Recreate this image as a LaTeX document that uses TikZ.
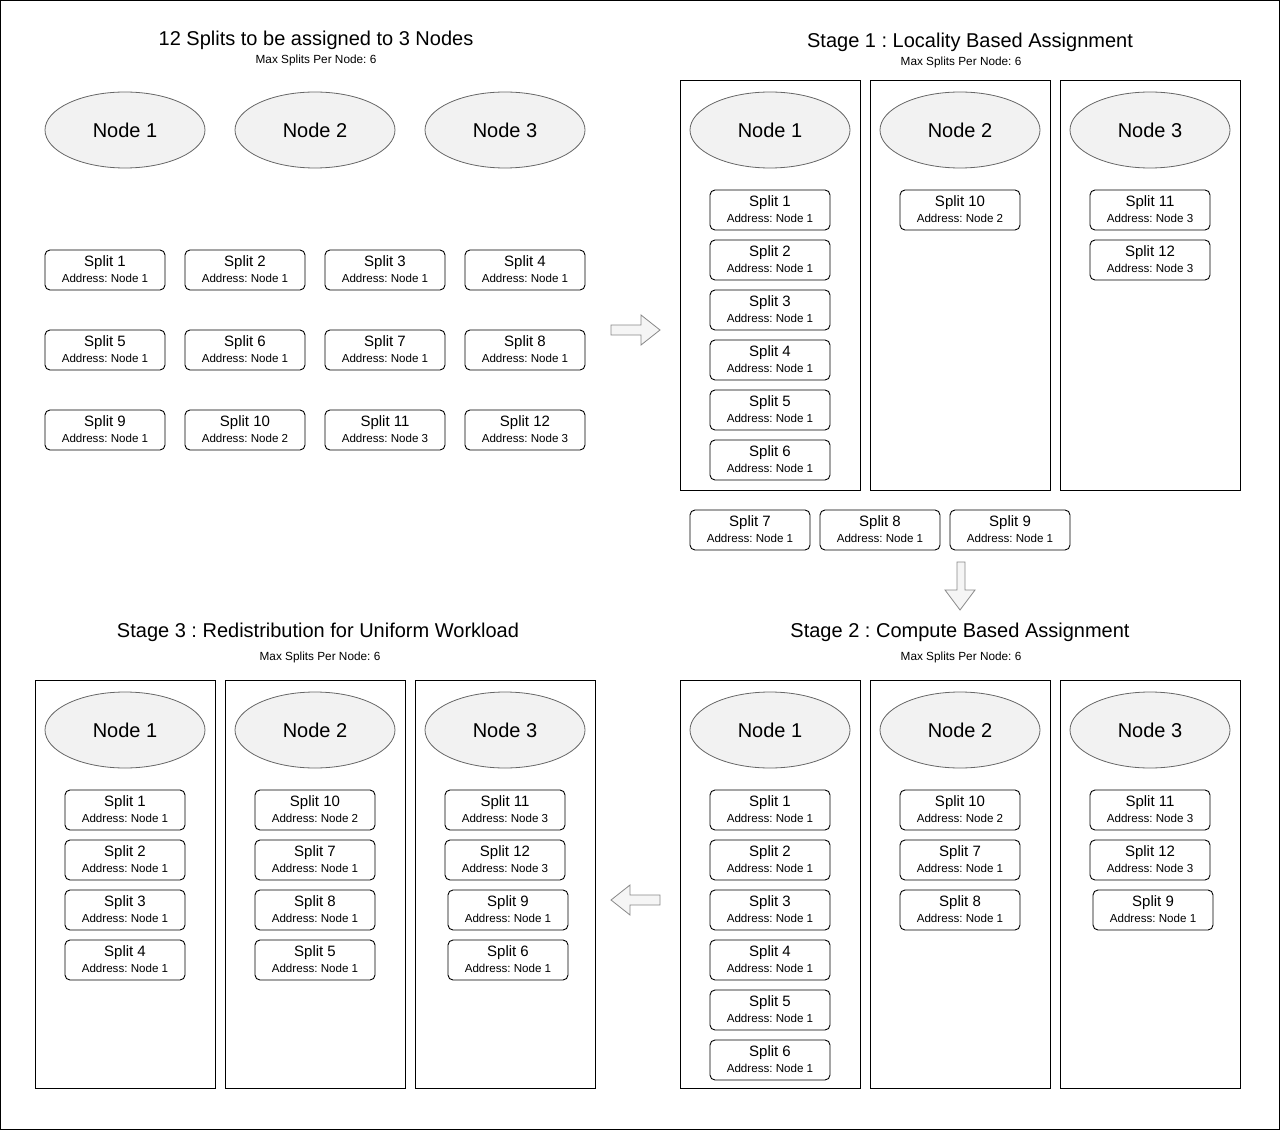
\documentclass[tikz,border=0pt]{standalone}
\usepackage{fontspec}
\setmainfont{Liberation Sans}
\frenchspacing
\usetikzlibrary{calc}
\definecolor{ellfill}{HTML}{F2F2F2}
\definecolor{ellline}{HTML}{666666}
\definecolor{arrfill}{HTML}{F5F5F5}
\definecolor{arrline}{HTML}{888888}
\tikzset{
  sbox/.style={draw=black, line width=0.9pt, rounded corners=5pt, minimum width=120pt, minimum height=40pt, inner sep=0pt},
  stext/.style={inner sep=0pt, font=\fontsize{15}{17}\selectfont},
  atext/.style={inner sep=0pt, font=\fontsize{11.6}{13}\selectfont},
  ell/.style={draw=ellline, fill=ellfill, line width=0.8pt, ellipse, minimum width=160pt, minimum height=76pt, inner sep=0pt, font=\fontsize{20}{24}\selectfont},
  cont/.style={draw=black, line width=1pt, minimum width=180pt, inner sep=0pt, anchor=north west},
  ttl/.style={inner sep=0pt, font=\fontsize{20}{24}\selectfont},
  sub/.style={inner sep=0pt, font=\fontsize{11.8}{13}\selectfont},
  blk/.style={draw=arrline, fill=arrfill, line width=0.8pt, line join=miter},
}
\usetikzlibrary{shapes.geometric}
% name, x, y (centre), split number, address node
\newcommand\splt[5]{%
  \node[sbox] (#1) at (#2,#3) {};
  \node[stext] (#1s) at ([yshift=7.5pt]#1.center) {Split #4};
  \node[atext] (#1a) at ([yshift=-8.5pt]#1.center) {Address: Node #5};
}
\begin{document}
\begin{tikzpicture}[x=1pt,y=-1pt]
\useasboundingbox (0,0) rectangle (1281,1131);
\draw[line width=1pt] (0.5,0.5) rectangle (1279.5,1129.5);

% ---------- Initial ----------
\node[ttl] (t0) at (316,40.5) {12 Splits to be assigned to 3 Nodes};
\node[sub] (m0) at (316,60) {Max Splits Per Node: 6};
\node[ell] (a1) at (125,130) {Node 1};
\node[ell] (a2) at (315,130) {Node 2};
\node[ell] (a3) at (505,130) {Node 3};
\splt{i1}{105}{270}{1}{1}
\splt{i2}{245}{270}{2}{1}
\splt{i3}{385}{270}{3}{1}
\splt{i4}{525}{270}{4}{1}
\splt{i5}{105}{350}{5}{1}
\splt{i6}{245}{350}{6}{1}
\splt{i7}{385}{350}{7}{1}
\splt{i8}{525}{350}{8}{1}
\splt{i9}{105}{430}{9}{1}
\splt{i10}{245}{430}{10}{2}
\splt{i11}{385}{430}{11}{3}
\splt{i12}{525}{430}{12}{3}

% ---------- Stage 1 ----------
\node[ttl] (t1) at (970,42.5) {Stage 1 : Locality Based Assignment};
\node[sub] (m1) at (961,62) {Max Splits Per Node: 6};
\node[cont, minimum height=410pt] (c11) at (680,80) {};
\node[cont, minimum height=410pt] (c12) at (870,80) {};
\node[cont, minimum height=410pt] (c13) at (1060,80) {};
\node[ell] (b1) at (770,130) {Node 1};
\node[ell] (b2) at (960,130) {Node 2};
\node[ell] (b3) at (1150,130) {Node 3};
\splt{p1}{770}{210}{1}{1}
\splt{p2}{770}{260}{2}{1}
\splt{p3}{770}{310}{3}{1}
\splt{p4}{770}{360}{4}{1}
\splt{p5}{770}{410}{5}{1}
\splt{p6}{770}{460}{6}{1}
\splt{p10}{960}{210}{10}{2}
\splt{p11}{1150}{210}{11}{3}
\splt{p12}{1150}{260}{12}{3}
\splt{r7}{750}{530}{7}{1}
\splt{r8}{880}{530}{8}{1}
\splt{r9}{1010}{530}{9}{1}

% ---------- Stage 2 ----------
\node[ttl] (t2) at (960,632.5) {Stage 2 : Compute Based Assignment};
\node[sub] (m2) at (961,657) {Max Splits Per Node: 6};
\node[cont, minimum height=408pt] (c21) at (680,680) {};
\node[cont, minimum height=408pt] (c22) at (870,680) {};
\node[cont, minimum height=408pt] (c23) at (1060,680) {};
\node[ell] (d1) at (770,730) {Node 1};
\node[ell] (d2) at (960,730) {Node 2};
\node[ell] (d3) at (1150,730) {Node 3};
\splt{q1}{770}{810}{1}{1}
\splt{q2}{770}{860}{2}{1}
\splt{q3}{770}{910}{3}{1}
\splt{q4}{770}{960}{4}{1}
\splt{q5}{770}{1010}{5}{1}
\splt{q6}{770}{1060}{6}{1}
\splt{q10}{960}{810}{10}{2}
\splt{q7}{960}{860}{7}{1}
\splt{q8}{960}{910}{8}{1}
\splt{q11}{1150}{810}{11}{3}
\splt{q12}{1150}{860}{12}{3}
\splt{q9}{1153}{910}{9}{1}

% ---------- Stage 3 ----------
\node[ttl] (t3) at (318,632.5) {Stage 3 : Redistribution for Uniform Workload};
\node[sub] (m3) at (320,657) {Max Splits Per Node: 6};
\node[cont, minimum height=408pt] (c31) at (35,680) {};
\node[cont, minimum height=408pt] (c32) at (225,680) {};
\node[cont, minimum height=408pt] (c33) at (415,680) {};
\node[ell] (e1) at (125,730) {Node 1};
\node[ell] (e2) at (315,730) {Node 2};
\node[ell] (e3) at (505,730) {Node 3};
\splt{s1}{125}{810}{1}{1}
\splt{s2}{125}{860}{2}{1}
\splt{s3}{125}{910}{3}{1}
\splt{s4}{125}{960}{4}{1}
\splt{s10}{315}{810}{10}{2}
\splt{s7}{315}{860}{7}{1}
\splt{s8}{315}{910}{8}{1}
\splt{s5}{315}{960}{5}{1}
\splt{s11}{505}{810}{11}{3}
\splt{s12}{505}{860}{12}{3}
\splt{s9}{508}{910}{9}{1}
\splt{s6}{508}{960}{6}{1}

% ---------- block arrows ----------
\draw[blk] (611,325) -- (641,325) -- (641,315) -- (660,330) -- (641,345) -- (641,335) -- (611,335) -- cycle;
\draw[blk] (957,562) -- (965,562) -- (965,590) -- (975,590) -- (960,610) -- (945,590) -- (957,590) -- cycle;
\draw[blk] (660,895) -- (630,895) -- (630,885) -- (611,900) -- (630,915) -- (630,905) -- (660,905) -- cycle;
\end{tikzpicture}
\end{document}
